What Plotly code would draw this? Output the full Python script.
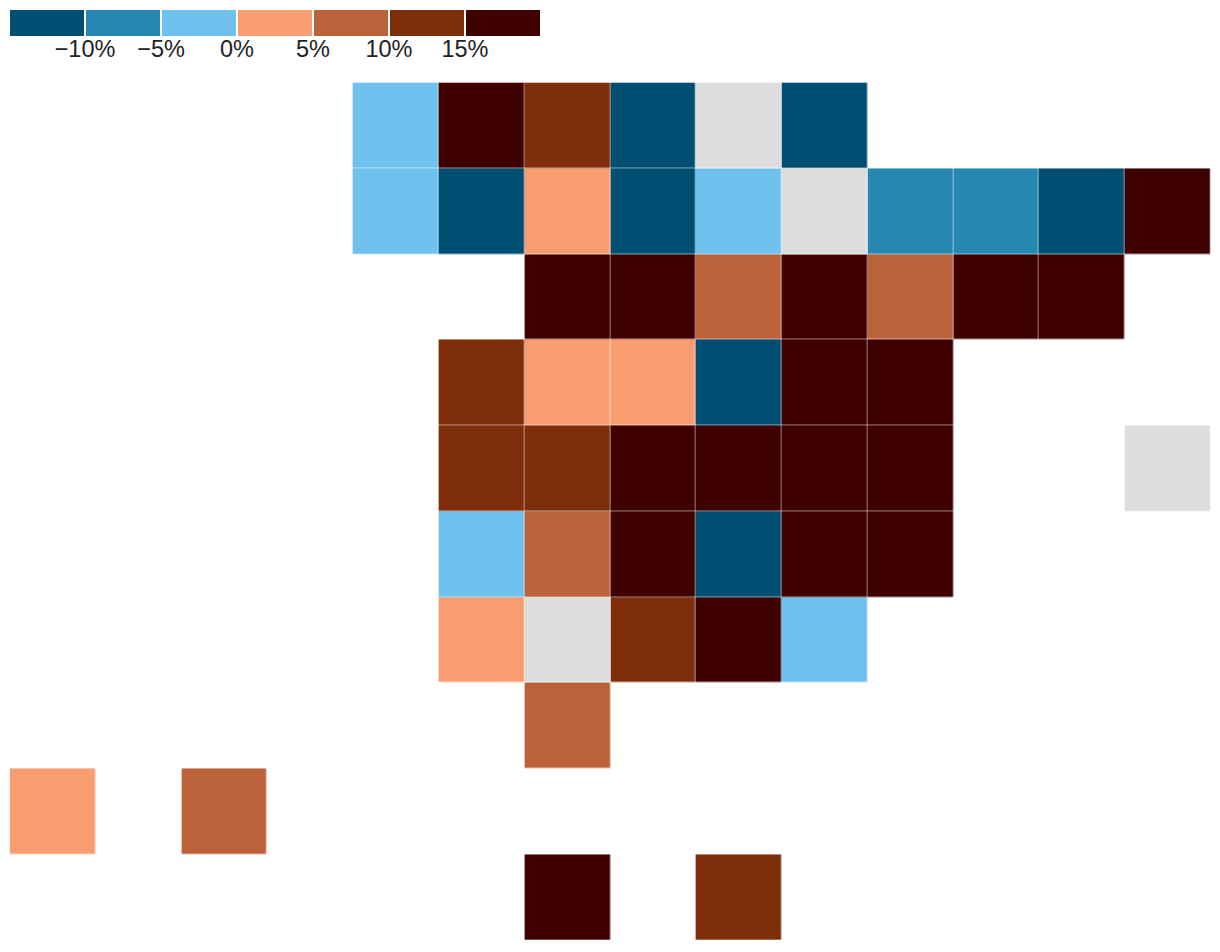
import plotly.graph_objects as go

# tile grid values in %, None = empty tile, NA = tile with no data (grey)
NA = "na"
row_0 = [None, None, None, None, -2, 17, 12, -12, NA, -12, None, None, None, None]
row_1 = [None, None, None, None, -2, -12, 2, -12, -2, NA, -7, -7, -12, 17]
row_2 = [None, None, None, None, None, None, 17, 17, 7, 17, 7, 17, 17, None]
row_3 = [None, None, None, None, None, 12, 2, 2, -12, 17, 17, None, None, None]
row_4 = [None, None, None, None, None, 12, 12, 17, 17, 17, 17, None, None, NA]
row_5 = [None, None, None, None, None, -2, 7, 17, -12, 17, 17, None, None, None]
row_6 = [None, None, None, None, None, 2, NA, 12, 17, -2, None, None, None, None]
row_7 = [None, None, None, None, None, None, 7, None, None, None, None, None, None, None]
row_8 = [2, None, 7, None, None, None, None, None, None, None, None, None, None, None]
row_9 = [None, None, None, None, None, None, 17, None, 12, None, None, None, None, None]
rows = [row_0, row_1, row_2, row_3, row_4, row_5, row_6, row_7, row_8, row_9]

bin_colors = ["#004e71", "#2688b0", "#6fc2ee", "#f99c70", "#bb623a", "#7e2e0a", "#3f0000"]
bin_mids = [-12.5, -7.5, -2.5, 2.5, 7.5, 12.5, 17.5]
tick_vals = [-10, -5, 0, 5, 10, 15]
tick_text = ["−10%", "−5%", "0%", "5%", "10%", "15%"]
no_data_color = "#dddddd"

Z_MIN, Z_MAX = -15, 20
W, H = 1220, 952

# stepped colorscale, one flat band per bin
scale = []
for i, c in enumerate(bin_colors):
    scale.append([i / len(bin_colors), c])
    scale.append([(i + 1) / len(bin_colors), c])

values = [[None if v == NA else v for v in r] for r in rows]
missing = [[1 if v == NA else None for v in r] for r in rows]

fig = go.Figure()
fig.add_trace(go.Heatmap(z=values, colorscale=scale, zmin=Z_MIN, zmax=Z_MAX, showscale=False,
                         xgap=0.5, ygap=0.5, hoverongaps=False))
fig.add_trace(go.Heatmap(z=missing, colorscale=[[0, no_data_color], [1, no_data_color]], showscale=False,
                         xgap=0.5, ygap=0.5, hoverongaps=False))
# legend strip
fig.add_trace(go.Heatmap(x=bin_mids, z=[bin_mids], colorscale=scale, zmin=Z_MIN, zmax=Z_MAX, showscale=False,
                         xgap=2, xaxis="x2", yaxis="y2"))

fig.update_layout(
    width=W, height=H,
    margin=dict(l=0, r=0, t=0, b=0),
    paper_bgcolor="white", plot_bgcolor="white",
    font=dict(family="Liberation Sans", color="#222222"),
    xaxis=dict(domain=[9.6 / W, 1210.6 / W], range=[-0.5, 13.5], visible=False),
    yaxis=dict(domain=[1 - 940 / H, 1 - 82.4 / H], range=[9.5, -0.5], visible=False),
    xaxis2=dict(domain=[9 / W, 541 / W], range=[Z_MIN, Z_MAX], anchor="y2", tickvals=tick_vals,
                ticktext=tick_text, ticks="", showgrid=False, zeroline=False, showline=False,
                tickfont=dict(size=23.5, color="#222222"), side="bottom", ticklabelstandoff=-4),
    yaxis2=dict(domain=[1 - 36 / H, 1 - 10 / H], visible=False),
)

fig.write_html("out.html", config=dict(displayModeBar=False),
               post_script="document.body.style.margin='0';")
